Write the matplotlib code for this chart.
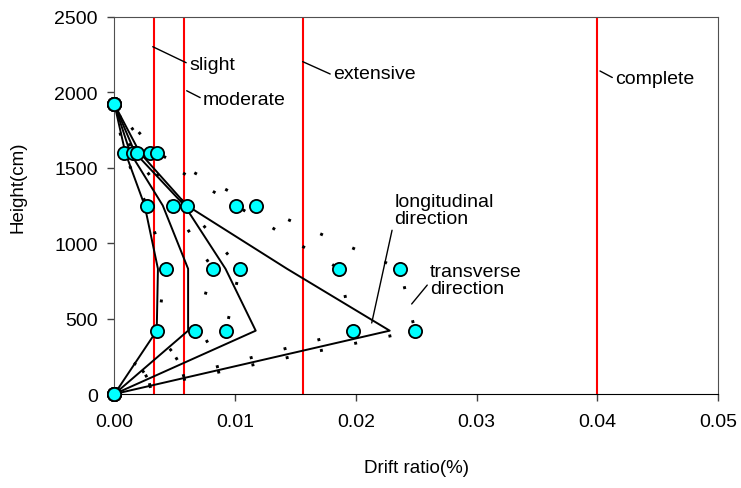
import matplotlib
matplotlib.use("Agg")
import matplotlib.pyplot as plt

plt.rcParams['font.family'] = ['Liberation Sans', 'DejaVu Sans']

# storey heights (cm)
heights = [0, 420, 830, 1250, 1600, 1920]

# longitudinal direction (solid lines)
long_1 = [0, 0.0035, 0.0036, 0.0025, 0.0009, 0]
long_2 = [0, 0.0061, 0.0061, 0.0040, 0.0013, 0]
long_3 = [0, 0.0117, 0.0092, 0.0058, 0.0017, 0]
long_4 = [0, 0.0228, 0.0143, 0.0060, 0.0021, 0]

# transverse direction (dotted lines with circles)
trans_1 = [0, 0.00355, 0.00424, 0.00267, 0.00079, 0]
trans_2 = [0, 0.00667, 0.00813, 0.00482, 0.00150, 0]
trans_3 = [0, 0.00921, 0.01040, 0.00598, 0.00184, 0]
trans_4 = [0, 0.01973, 0.01862, 0.01007, 0.00294, 0]
trans_5 = [0, 0.02490, 0.02365, 0.01172, 0.00350, 0]

# damage state limits
limits = [0.0033, 0.0058, 0.0156, 0.04]
limit_names = ["slight", "moderate", "extensive", "complete"]

fig = plt.figure(figsize=(7.41, 4.89), dpi=100)
ax = fig.add_axes([0.1545, 0.1922, 0.8145, 0.771])

for xv in limits:
    ax.axvline(xv, color='red', lw=1.5, zorder=1)

for s in [long_1, long_2, long_3, long_4]:
    ax.plot(s, heights, color='black', lw=1.4, zorder=2)

for s in [trans_1, trans_2, trans_3, trans_4, trans_5]:
    ax.plot(s, heights, color='black', lw=2.1, linestyle=(0, (1, 11)),
            dash_capstyle='butt', zorder=3)
    ax.plot(s, heights, linestyle='none', marker='o', markersize=9.5,
            markerfacecolor='#00FFFF', markeredgecolor='black',
            markeredgewidth=1.3, zorder=4, clip_on=False)

arrow = dict(arrowstyle='-', lw=1, color='black', shrinkA=0, shrinkB=0)
ax.annotate(limit_names[0], xy=(0.00317, 2303), xytext=(0.00617, 2188),
            fontsize=14, va='center', ha='left',
            arrowprops=dict(arrow, relpos=(0, 0.5)))
ax.annotate(limit_names[1], xy=(0.00598, 2011), xytext=(0.00733, 1956),
            fontsize=14, va='center', ha='left',
            arrowprops=dict(arrow, relpos=(0, 0.5)))
ax.annotate(limit_names[2], xy=(0.01559, 2204), xytext=(0.0181, 2125),
            fontsize=14, va='center', ha='left',
            arrowprops=dict(arrow, relpos=(0, 0.4)))
ax.annotate(limit_names[3], xy=(0.04022, 2142), xytext=(0.04147, 2089),
            fontsize=14, va='center', ha='left',
            arrowprops=dict(arrow, relpos=(0, 0.5)))
ax.annotate("longitudinal\ndirection", xy=(0.02131, 471),
            xytext=(0.0232, 1217), fontsize=14, va='center', ha='left',
            linespacing=1.0, arrowprops=dict(arrow, relpos=(0, 0.25)))
ax.annotate("transverse\ndirection", xy=(0.02462, 597),
            xytext=(0.02614, 756), fontsize=14, va='center', ha='left',
            linespacing=1.0, arrowprops=dict(arrow, relpos=(0, 0.45)))

ax.set_xlim(0, 0.05)
ax.set_ylim(0, 2500)
ax.set_xticks([0, 0.01, 0.02, 0.03, 0.04, 0.05])
ax.set_xticklabels(["0.00", "0.01", "0.02", "0.03", "0.04", "0.05"])
ax.set_yticks([0, 500, 1000, 1500, 2000, 2500])
ax.tick_params(axis='both', direction='out', length=5, width=1,
               labelsize=14, color='#404040')
ax.tick_params(axis='x', pad=9)
ax.tick_params(axis='y', pad=7)

for side in ['left', 'top', 'right']:
    ax.spines[side].set_color('#505050')
ax.spines['bottom'].set_color('black')

ax.set_xlabel("Drift ratio(%)", fontsize=13.5)
ax.xaxis.set_label_coords(0.5, -0.1936)
ax.xaxis.label.set_va('center')
ax.set_ylabel("Height(cm)", fontsize=13.5)
ax.yaxis.set_label_coords(-0.16, 0.55)
ax.yaxis.label.set_va('center')

fig.savefig("out.png", dpi=100)
